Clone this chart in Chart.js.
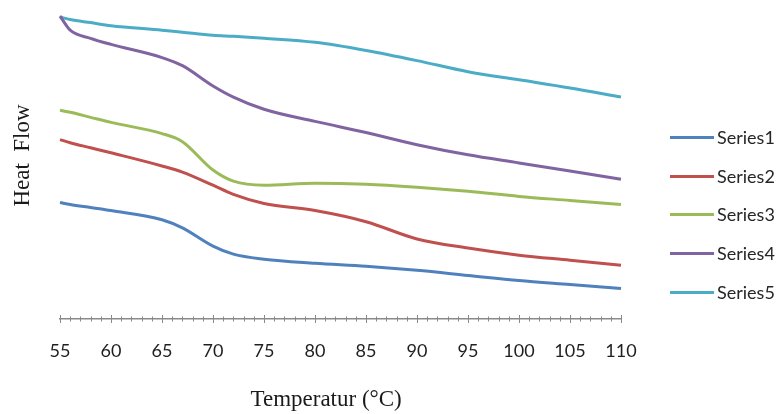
<!DOCTYPE html>
<html>
<head>
<meta charset="utf-8">
<script src="https://cdn.jsdelivr.net/npm/chart.js@4.4.0/dist/chart.umd.min.js"></script>
<style>
  body { margin: 0; background: #fff; }
  #wrap { position: relative; width: 780px; height: 414px; }
  #legend { position: absolute; left: 670px; top: 0; font-family: Lato, sans-serif; font-size: 18px; color: #262626; }
  .item { position: absolute; left: 0; display: flex; align-items: center; white-space: nowrap; transform: translateY(-50%); }
  .swatch { width: 44px; height: 3px; margin-right: 3px; }
</style>
</head>
<body>
<div id="wrap">
  <canvas id="grafico_dsc" width="780" height="414"></canvas>
  <div id="legend"></div>
</div>
<script>
// temperatur (°C)
const temperaturas = [55, 56, 58, 60, 65, 67, 70, 72, 75, 80, 85, 90, 95, 100, 105, 110];
// heat flow (arbitrary units)
const series1 = [11.5, 11.3, 11.0, 10.7, 9.8, 9.0, 7.2, 6.4, 5.9, 5.5, 5.2, 4.8, 4.3, 3.8, 3.4, 3.0];
const series2 = [17.7, 17.4, 16.9, 16.4, 15.1, 14.5, 13.2, 12.3, 11.4, 10.7, 9.6, 7.9, 7.0, 6.3, 5.8, 5.3];
const series3 = [20.6, 20.4, 19.9, 19.4, 18.3, 17.5, 14.7, 13.6, 13.2, 13.4, 13.3, 13.0, 12.6, 12.1, 11.7, 11.3];
const series4 = [29.9, 28.5, 27.7, 27.1, 25.8, 25.0, 23.0, 21.9, 20.7, 19.5, 18.4, 17.2, 16.2, 15.4, 14.6, 13.8];
const series5 = [29.8, 29.55, 29.25, 28.95, 28.5, 28.3, 28.0, 27.9, 27.7, 27.3, 26.5, 25.5, 24.4, 23.6, 22.8, 21.9];
const nomes = ['Series1', 'Series2', 'Series3', 'Series4', 'Series5'];
const cores = ['#4f81bd', '#c0504d', '#9bbb59', '#8064a2', '#4bacc6'];

const todas = [series1, series2, series3, series4, series5];

function pontos(valores) {
  return valores.map((v, i) => ({ x: temperaturas[i], y: v }));
}

// ticks cruzando o eixo x, maiores a cada 5 graus
const ticksMenores = {
  id: 'ticksMenores',
  afterDraw(chart) {
    const escala = chart.scales.x;
    const ctx = chart.ctx;
    const y0 = chart.chartArea.bottom;
    ctx.save();
    ctx.strokeStyle = '#8a8a8a';
    ctx.lineWidth = 1;
    for (let t = escala.min; t <= escala.max; t++) {
      const px = Math.round(escala.getPixelForValue(t)) + 0.5;
      const h = t % 5 === 0 ? 4 : 2.5;
      ctx.beginPath();
      ctx.moveTo(px, y0 - h);
      ctx.lineTo(px, y0 + h);
      ctx.stroke();
    }
    ctx.restore();
  }
};

const grafico = new Chart(document.getElementById('grafico_dsc'), {
  type: 'line',
  data: {
    datasets: todas.map((s, i) => ({
      label: nomes[i],
      data: pontos(s),
      borderColor: cores[i],
      backgroundColor: cores[i],
      borderWidth: 3,
      pointRadius: 0,
      cubicInterpolationMode: 'monotone',
      clip: false
    }))
  },
  options: {
    responsive: false,
    animation: false,
    layout: { padding: { top: 15, right: 159, left: 0, bottom: 0 } },
    plugins: {
      legend: { display: false },
      tooltip: { enabled: false }
    },
    scales: {
      x: {
        type: 'linear',
        min: 55,
        max: 110,
        afterFit(s) { s.height = 95; },
        grid: { display: false, drawTicks: false },
        border: { display: true, color: '#8a8a8a', width: 1.5 },
        ticks: {
          stepSize: 5,
          padding: 21,
          color: '#1f1f1f',
          font: { family: 'Lato', size: 18 }
        },
        title: {
          display: true,
          // espaços no fim puxam o título um pouco para a esquerda, como no original
          text: 'Temperatur (°C)\u00a0\u00a0\u00a0\u00a0\u00a0',
          color: '#1a1a1a',
          padding: { top: 0, bottom: 0 },
          font: { family: 'Liberation Serif', size: 23 }
        }
      },
      y: {
        min: 0,
        max: 30,
        afterFit(s) { s.width = 60; },
        grid: { display: false, drawTicks: false },
        border: { display: false },
        ticks: { display: false },
        title: {
          display: true,
          text: '\u00a0\u00a0\u00a0\u00a0Heat  Flow',
          color: '#1a1a1a',
          padding: { top: 9, bottom: 0 },
          font: { family: 'Liberation Serif', size: 23 }
        }
      }
    }
  },
  plugins: [ticksMenores]
});

// legenda à direita
const topos = [137, 176, 214, 253, 292];
const legenda = document.getElementById('legend');
grafico.data.datasets.forEach((ds, i) => {
  legenda.innerHTML += `
    <div class="item" style="top:${topos[i]}px">
      <span class="swatch" style="background:${ds.borderColor}"></span>${ds.label}
    </div>`;
});
</script>
</body>
</html>
